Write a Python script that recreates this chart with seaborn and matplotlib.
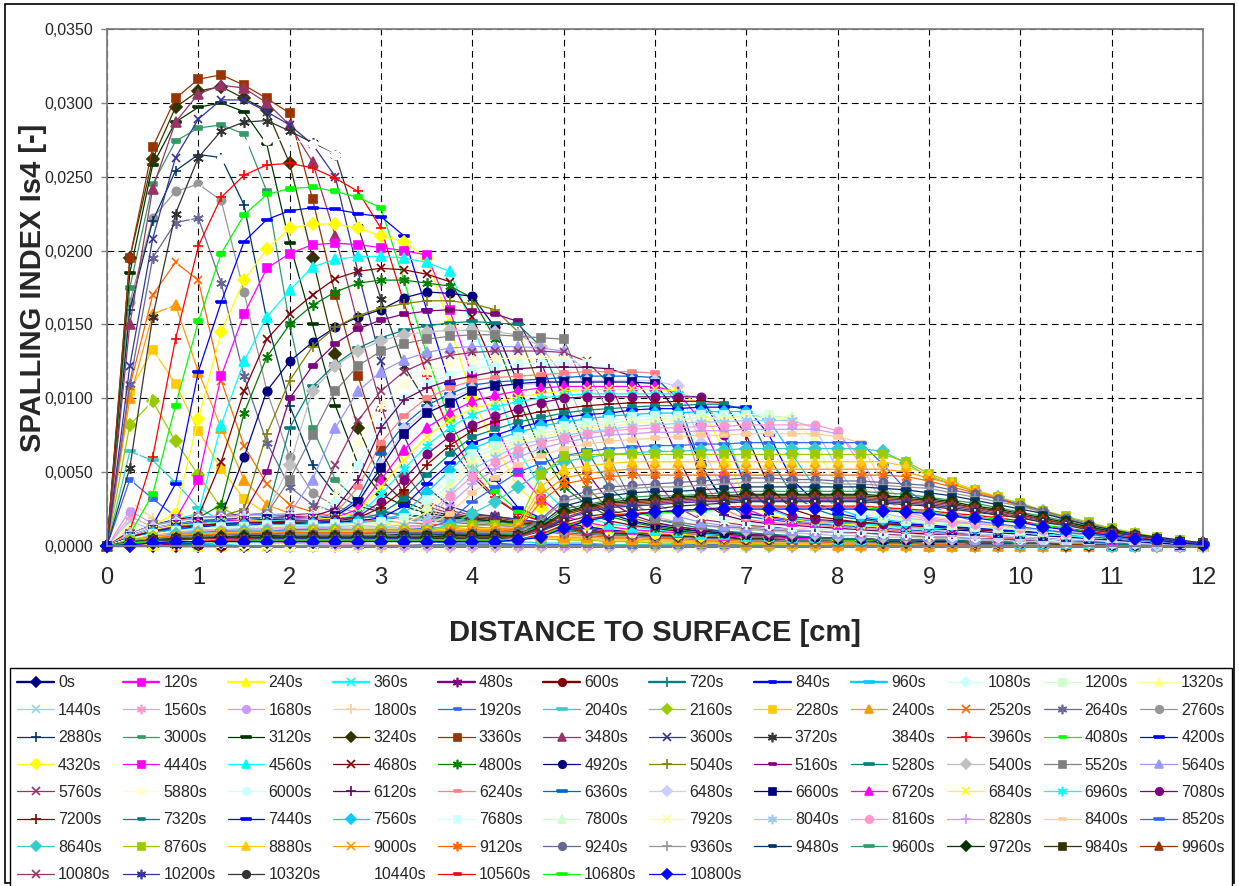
import numpy as np
import pandas as pd
import matplotlib
matplotlib.use("Agg")
import matplotlib.pyplot as plt
import seaborn as sns
from matplotlib.ticker import FuncFormatter, MultipleLocator
from matplotlib.patches import Rectangle

# ---------------- data ----------------
DIST_CM = [0, 0.25, 0.5, 0.75, 1.0, 1.25, 1.5, 1.75, 2.0, 2.25, 2.5, 2.75, 3.0, 3.25, 3.5, 3.75,
           4.0, 4.25, 4.5, 4.75, 5.0, 5.25, 5.5, 5.75, 6.0, 6.25, 6.5, 6.75, 7.0, 7.25, 7.5, 7.75,
           8.0, 8.25, 8.5, 8.75, 9.0, 9.25, 9.5, 9.75, 10.0, 10.25, 10.5, 10.75, 11.0, 11.25, 11.5, 11.75, 12.0]
TIME_S = list(range(0, 10801, 120))
SERIES_LABELS = [f"{t}s" for t in TIME_S]

# spalling index Is4 in units of 1e-4, one row per time step
IS4_E4 = [
 [0,0,0,0,0,0,0,0, 0,0,0,0,0,0,0,0, 0,0,0,0,0,0,0,0,0,0,0,0,0,0,0,0, 0,0,0,0,0,0,0,0,0,0,0,0,0,0,0,0,0],
 [0,2,1,0,0,0,0,0, 0,0,0,0,0,0,0,0, 0,0,0,0,0,0,0,0,0,0,0,0,0,0,0,0, 0,0,0,0,0,0,0,0,0,0,0,0,0,0,0,0,0],
 [0,3,1,1,0,0,0,0, 0,0,0,0,0,0,0,0, 0,0,0,0,0,0,0,0,0,0,0,0,0,0,0,0, 0,0,0,0,0,0,0,0,0,0,0,0,0,0,0,0,0],
 [0,4,2,1,0,0,0,0, 0,0,0,0,0,0,0,0, 0,0,0,0,0,0,0,0,0,0,0,0,0,0,0,0, 0,0,0,0,0,0,0,0,0,0,0,0,0,0,0,0,0],
 [0,5,2,1,1,0,0,0, 0,0,0,0,0,0,0,0, 0,0,0,0,0,0,0,0,0,0,0,0,0,0,0,0, 0,0,0,0,0,0,0,0,0,0,0,0,0,0,0,0,0],
 [0,6,3,2,1,0,0,0, 0,0,0,0,0,0,0,0, 0,0,0,0,0,0,0,0,0,0,0,0,0,0,0,0, 0,0,0,0,0,0,0,0,0,0,0,0,0,0,0,0,0],
 [0,7,4,2,1,1,0,0, 0,0,0,0,0,0,0,0, 0,0,0,0,0,0,0,0,0,0,0,0,0,0,0,0, 0,0,0,0,0,0,0,0,0,0,0,0,0,0,0,0,0],
 [0,8,5,3,2,1,0,0, 0,0,0,0,0,0,0,0, 0,0,0,0,0,0,0,0,0,0,0,0,0,0,0,0, 0,0,0,0,0,0,0,0,0,0,0,0,0,0,0,0,0],
 [0,10,6,4,2,1,1,0, 0,0,0,0,0,0,0,0, 0,0,0,0,0,0,0,0,0,0,0,0,0,0,0,0, 0,0,0,0,0,0,0,0,0,0,0,0,0,0,0,0,0],
 [0,11,7,4,3,2,1,1, 0,0,0,0,0,0,0,0, 0,0,0,0,0,0,0,0,0,0,0,0,0,0,0,0, 0,0,0,0,0,0,0,0,0,0,0,0,0,0,0,0,0],
 [0,13,8,5,3,2,2,1, 1,0,0,0,0,0,0,0, 0,0,0,0,0,0,0,0,0,0,0,0,0,0,0,0, 0,0,0,0,0,0,0,0,0,0,0,0,0,0,0,0,0],
 [0,15,9,6,4,3,2,2, 1,1,0,0,0,0,0,0, 0,0,0,0,0,0,0,0,0,0,0,0,0,0,0,0, 0,0,0,0,0,0,0,0,0,0,0,0,0,0,0,0,0],
 [0,17,11,7,5,4,3,2, 2,1,1,0,0,0,0,0, 0,0,0,0,0,0,0,0,0,0,0,0,0,0,0,0, 0,0,0,0,0,0,0,0,0,0,0,0,0,0,0,0,0],
 [0,20,13,9,6,5,4,3, 2,2,1,1,0,0,0,0, 0,0,0,0,0,0,0,0,0,0,0,0,0,0,0,0, 0,0,0,0,0,0,0,0,0,0,0,0,0,0,0,0,0],
 [0,24,15,10,7,6,5,4, 3,2,2,1,1,0,0,0, 0,0,0,0,0,0,0,0,0,0,0,0,0,0,0,0, 0,0,0,0,0,0,0,0,0,0,0,0,0,0,0,0,0],
 [0,30,19,12,9,7,6,5, 4,3,2,2,1,1,0,0, 0,0,0,0,0,0,0,0,0,0,0,0,0,0,0,0, 0,0,0,0,0,0,0,0,0,0,0,0,0,0,0,0,0],
 [0,45,32,20,14,11,9,8, 7,6,5,4,4,3,3,2, 2,2,1,1,1,1,0,0,0,0,0,0,0,0,0,0, 0,0,0,0,0,0,0,0,0,0,0,0,0,0,0,0,0],
 [0,64,58,43,26,17,13,11, 10,9,8,7,6,5,5,4, 4,3,3,2,2,2,1,1,1,1,0,0,0,0,0,0, 0,0,0,0,0,0,0,0,0,0,0,0,0,0,0,0,0],
 [0,82,98,71,48,26,18,15, 14,13,12,11,10,9,8,8, 7,6,6,5,4,4,3,3,2,2,2,2,1,1,1,1, 0,0,0,0,0,0,0,0,0,0,0,0,0,0,0,0,0],
 [0,105,133,110,78,52,32,22, 18,16,15,14,13,12,11,10, 9,8,7,6,5,5,4,4,3,3,2,2,2,2,1,1, 1,1,1,1,0,0,0,0,0,0,0,0,0,0,0,0,0],
 [0,100,157,163,118,80,45,28, 22,19,17,16,15,14,13,12, 11,10,9,7,6,6,5,5,4,4,3,3,2,2,2,2, 1,1,1,1,0,0,0,0,0,0,0,0,0,0,0,0,0],
 [0,108,170,192,180,112,68,42, 28,23,20,18,17,16,15,14, 13,12,11,10,8,7,6,6,5,5,4,4,3,3,3,3, 2,2,2,2,1,1,1,1,1,1,0,0,0,0,0,0,0],
 [0,110,195,219,222,178,115,70, 40,28,23,20,19,18,17,16, 15,14,13,11,9,8,7,7,6,6,5,5,4,4,3,3, 3,3,2,2,2,2,1,1,1,1,1,1,0,0,0,0,0],
 [0,165,222,240,245,234,172,105, 60,36,27,22,20,19,18,17, 16,15,14,12,10,9,8,8,7,7,6,6,5,5,4,4, 3,3,3,3,2,2,2,2,1,1,1,1,1,1,0,0,0],
 [0,160,220,254,265,263,231,153, 95,55,35,27,23,21,20,19, 18,17,15,13,11,9,8,8,7,7,6,6,5,5,4,4, 4,4,3,3,3,3,2,2,2,2,1,1,1,1,1,1,0],
 [0,175,245,274,283,285,279,240, 150,80,45,30,24,21,19,18, 17,16,15,13,11,9,8,8,7,7,6,6,5,5,4,4, 4,4,3,3,3,3,2,2,2,2,1,1,1,1,1,1,0],
 [0,185,258,287,297,300,294,272, 205,150,95,55,35,27,22,20, 18,17,16,14,12,10,9,8,7,7,6,6,5,5,5,5, 4,4,3,3,3,3,2,2,2,2,1,1,1,1,1,1,0],
 [0,195,262,297,308,311,303,295, 259,195,130,80,45,30,24,21, 19,18,16,14,12,10,9,9,8,7,6,6,5,5,5,5, 4,4,3,3,3,3,2,2,2,2,1,1,1,1,1,1,0],
 [0,195,270,303,316,319,312,303, 293,235,170,115,65,35,27,22, 20,19,17,15,12,10,9,9,8,8,7,7,6,6,5,5, 4,4,4,4,3,3,2,2,2,2,1,1,1,1,1,1,0],
 [0,150,242,287,306,312,310,300, 285,260,210,150,95,50,30,24, 21,20,18,16,13,11,10,9,8,8,7,7,6,6,5,5, 4,4,4,4,3,3,3,3,2,2,2,2,1,1,1,1,0],
 [0,122,208,263,289,302,302,294, 285,272,250,185,125,75,40,27, 22,20,18,16,13,11,10,9,8,8,7,7,6,6,5,5, 4,4,4,4,3,3,3,3,2,2,2,2,1,1,1,1,0],
 [0,53,155,225,263,281,287,288, 281,273,265,216,167,122,97,68, 47,32,22,17,14,12,10,9,8,8,7,7,6,6,5,5, 4,4,4,4,3,3,3,3,2,2,2,2,1,1,1,1,0],
 [0,30,110,185,240,262,272,275, 275,272,265,250,205,150,105,70, 50,35,24,18,15,12,10,9,8,8,7,7,6,6,5,5, 4,4,4,4,3,3,3,3,2,2,2,2,1,1,1,1,0],
 [0,10,60,140,203,236,251,258, 259,256,249,240,215,165,115,78, 50,33,22,17,14,12,10,9,8,8,7,7,6,6,5,5, 4,4,4,4,3,3,3,3,2,2,2,2,1,1,1,1,0],
 [0,8,35,95,152,198,224,238, 242,243,240,236,229,180,130,85, 55,37,24,18,15,13,11,10,9,8,7,7,6,6,5,5, 4,4,4,4,3,3,3,3,2,2,2,2,1,1,1,1,0],
 [0,6,14,42,118,165,206,221, 227,229,228,225,223,210,160,110, 70,45,26,19,16,13,11,10,9,8,7,7,6,6,5,5, 5,5,4,4,3,3,3,3,2,2,2,2,1,1,1,1,0],
 [0,8,14,22,86,145,180,201, 215,218,218,215,210,206,195,150, 100,68,40,26,18,15,12,10,9,8,7,7,6,6,5,5, 5,5,4,4,3,3,3,3,2,2,2,2,1,1,1,1,0],
 [0,8,14,18,45,115,157,188, 198,204,205,204,202,200,197,160, 115,82,50,32,20,16,13,11,10,9,8,7,6,6,5,5, 5,5,4,4,3,3,3,3,2,2,2,2,1,1,1,1,0],
 [0,8,14,18,22,82,125,155, 173,189,194,196,196,195,192,186, 150,110,65,40,25,19,15,13,11,10,8,8,7,7,6,6, 5,5,4,4,3,3,3,3,2,2,2,2,1,1,1,1,0],
 [0,8,14,18,20,57,105,140, 157,170,181,186,188,187,184,179, 155,120,80,50,30,22,17,14,12,10,9,8,7,7,6,6, 5,5,4,4,3,3,3,3,2,2,2,2,1,1,1,1,0],
 [0,8,14,17,19,28,90,128, 150,163,172,178,180,180,178,176, 168,140,100,65,40,28,20,16,13,11,10,9,8,7,6,6, 5,5,4,4,3,3,3,3,2,2,2,2,1,1,1,1,0],
 [0,8,14,17,19,20,60,105, 125,138,148,155,160,168,172,171, 169,148,110,72,45,30,22,17,14,12,10,9,8,7,6,6, 5,5,4,4,3,3,3,3,2,2,2,2,1,1,1,1,0],
 [0,8,14,17,19,20,25,76, 112,135,148,156,161,164,166,166, 164,160,145,105,65,40,25,19,15,13,11,10,8,7,6,6, 5,5,4,4,4,4,3,3,2,2,2,2,1,1,1,1,0],
 [0,8,14,17,19,20,22,50, 100,122,137,147,153,157,159,160, 159,157,152,125,85,50,30,21,16,13,11,10,8,7,6,6, 5,5,4,4,4,4,3,3,2,2,2,2,1,1,1,1,0],
 [0,8,14,17,19,20,21,22, 80,108,123,134,141,146,149,151, 152,151,150,135,100,65,40,26,18,15,12,10,9,8,7,6, 5,5,4,4,4,4,3,3,2,2,2,2,1,1,1,1,0],
 [0,8,14,17,19,20,21,22, 55,105,122,132,139,143,145,146, 146,145,143,135,115,80,50,30,20,16,14,12,11,10,9,8, 7,7,6,6,5,5,4,4,3,3,2,2,2,2,1,1,0],
 [0,8,14,17,19,20,21,22, 45,75,105,122,132,137,140,142, 143,143,142,141,140,105,60,30,18,16,14,13,12,11,10,10, 9,9,8,7,6,6,5,5,4,4,3,3,2,2,1,1,0],
 [0,8,14,17,19,20,21,21, 22,45,80,105,118,126,131,134, 135,135,135,134,132,118,90,55,30,20,16,14,13,12,11,10, 9,9,8,8,7,6,5,5,4,4,3,3,2,2,1,1,0],
 [0,8,13,16,18,19,20,20, 21,22,55,85,105,118,125,129, 131,132,132,132,131,125,110,78,45,26,18,16,14,13,12,11, 10,9,8,8,7,7,6,5,4,4,3,3,2,2,1,1,0],
 [0,8,13,16,18,19,20,20, 20,21,35,70,95,110,118,123, 126,127,127,127,127,125,118,92,60,35,20,17,15,14,12,11, 10,10,9,8,7,7,6,6,5,4,3,3,2,2,1,1,0],
 [0,7,13,16,18,19,19,20, 20,21,30,55,82,100,110,116, 120,122,123,124,124,123,120,105,80,45,24,19,16,14,13,12, 11,10,9,9,8,7,6,6,5,4,3,3,2,2,1,1,0],
 [0,7,12,15,17,18,19,19, 20,20,25,45,80,99,107,112, 115,118,120,121,121,121,120,115,95,60,30,21,17,15,14,13, 12,11,10,9,8,8,7,6,5,5,4,3,2,2,1,1,0],
 [0,7,12,15,17,18,18,19, 19,20,22,40,70,88,100,107, 112,114,115,116,117,118,118,118,117,95,45,25,18,16,15,14, 13,12,11,10,9,8,7,6,5,5,4,3,2,2,1,1,0],
 [0,7,12,15,17,18,18,19, 19,19,21,32,62,82,95,103, 109,111,112,113,114,115,115,115,114,100,55,30,20,18,16,15, 14,13,12,11,10,9,8,7,6,5,4,3,2,2,1,1,0],
 [0,7,12,15,16,17,18,18, 18,19,20,28,55,79,92,100, 106,108,109,110,111,112,112,112,112,108,70,35,22,19,17,16, 15,14,13,12,11,10,8,7,6,5,4,4,3,2,1,1,0],
 [0,6,11,14,16,17,17,18, 18,18,20,30,53,76,90,97, 105,108,110,111,111,111,111,111,110,90,55,30,22,20,18,17, 16,15,14,13,12,11,10,9,8,7,6,5,4,3,2,1,0],
 [0,6,11,14,16,17,17,17, 18,18,19,25,45,65,80,90, 98,102,105,107,108,108,108,108,108,104,85,50,25,19,17,16, 15,15,14,14,13,13,12,12,11,10,8,7,5,4,3,2,0],
 [0,6,11,14,15,16,17,17, 17,18,19,23,40,58,74,85, 93,97,101,103,105,106,106,106,106,105,95,65,30,21,18,16, 15,14,13,13,12,12,11,10,9,8,7,6,5,4,3,2,0],
 [0,6,10,13,15,16,16,17, 17,17,18,21,35,52,68,80, 89,94,98,100,102,103,103,103,103,103,100,80,40,25,19,17, 16,15,14,13,12,12,11,10,9,8,7,6,5,4,3,2,0],
 [0,6,10,13,14,15,16,16, 17,17,18,20,30,45,62,74, 82,88,93,97,100,101,101,101,101,101,101,75,40,26,20,18, 17,16,15,15,14,13,12,11,10,9,8,7,5,4,3,2,0],
 [0,6,10,12,14,15,15,16, 16,16,17,19,26,38,55,68, 78,84,88,91,93,95,96,97,97,98,98,97,75,40,25,20, 18,16,15,14,13,12,11,10,10,9,8,7,5,4,3,2,0],
 [0,5,9,12,13,14,15,15, 15,16,16,18,22,32,48,62, 74,79,84,87,90,92,93,94,95,95,96,96,92,60,35,25, 20,18,16,15,14,13,12,11,10,9,8,7,5,4,3,2,0],
 [0,5,9,11,13,14,14,15, 15,15,16,17,19,27,42,56, 70,75,80,84,87,89,90,92,93,93,94,94,94,75,45,30, 22,19,17,15,14,13,12,11,10,9,8,7,6,4,3,2,0],
 [0,5,9,11,12,13,14,14, 14,15,15,16,17,22,36,51, 66,72,77,81,84,86,88,89,90,90,91,91,91,85,62,40, 25,20,18,16,15,14,13,12,11,10,8,7,6,4,3,2,0],
 [0,5,8,10,12,13,13,14, 14,14,15,15,16,19,31,46, 62,68,74,78,81,83,85,87,88,88,89,89,89,89,84,60, 30,22,19,17,15,14,13,12,11,10,8,7,6,4,3,2,0],
 [0,5,8,10,11,12,13,13, 13,14,14,15,15,17,27,42, 59,66,72,76,79,81,83,85,86,86,87,87,88,88,87,70, 38,26,20,18,16,15,14,13,11,10,9,8,6,4,3,2,0],
 [0,5,8,10,11,12,12,13, 13,13,14,14,14,15,23,39, 56,63,70,74,77,79,81,83,84,85,86,86,87,87,86,72, 40,28,21,18,16,15,14,13,12,11,9,8,6,4,3,2,0],
 [0,4,7,9,11,11,12,12, 13,13,13,14,13,14,19,36, 52,60,68,72,75,77,79,81,82,83,84,84,85,85,85,80, 52,32,22,19,17,16,15,14,12,11,9,8,6,4,3,2,0],
 [0,4,7,9,10,11,11,12, 12,12,12,12,12,12,15,34, 47,57,65,70,73,76,78,79,80,80,81,81,82,82,82,82, 78,55,28,21,18,16,15,14,12,11,9,8,6,4,3,2,0],
 [0,4,7,9,10,10,11,11, 11,12,12,12,12,12,14,28, 42,52,60,66,70,73,75,76,77,77,78,78,79,79,79,79, 76,60,32,23,19,17,15,14,12,11,9,8,6,4,3,2,0],
 [0,4,7,8,9,10,10,11, 11,11,11,12,12,12,13,22, 36,46,55,61,66,69,71,72,73,74,75,75,76,76,76,76, 74,70,42,28,20,18,16,14,12,11,9,8,6,4,3,2,0],
 [0,4,6,8,9,10,10,10, 11,11,11,11,11,11,12,17, 30,40,50,56,61,64,66,67,68,68,69,69,70,70,70,70, 70,70,55,38,28,21,17,15,13,11,9,8,6,4,3,2,0],
 [0,4,6,8,9,9,10,10, 10,10,11,11,11,11,11,14, 22,30,40,50,57,60,62,63,64,64,65,65,66,66,66,66, 66,66,64,56,47,42,37,33,28,24,19,15,11,8,5,3,1],
 [0,4,6,7,8,9,9,9, 10,10,10,10,10,10,11,12, 14,14,15,48,61,62,62,62,62,62,62,62,62,62,62,62, 62,62,62,57,49,43,38,33,29,24,20,16,12,9,6,4,2],
 [0,3,6,7,8,9,9,9, 9,10,10,10,10,10,10,11, 12,12,13,40,52,54,56,57,57,57,57,57,57,57,57,57, 57,57,57,54,48,43,38,33,28,24,19,15,11,8,5,3,1],
 [0,3,5,7,8,8,9,9, 9,9,9,9,10,10,10,10, 11,11,12,35,46,49,51,52,52,52,52,52,52,52,52,52, 52,52,52,50,46,42,37,33,28,24,19,15,11,8,5,3,1],
 [0,3,5,7,7,8,8,8, 9,9,9,9,9,9,9,10, 10,10,11,30,42,45,47,48,48,48,48,48,48,48,48,48, 48,48,48,47,44,40,36,32,27,23,18,15,11,8,5,3,1],
 [0,3,5,6,7,7,8,8, 8,8,8,8,9,9,9,9, 9,9,10,18,32,37,40,41,42,43,44,45,46,46,45,45, 44,44,43,42,41,38,35,32,28,24,19,15,11,8,5,3,1],
 [0,3,5,6,6,7,7,7, 8,8,8,8,8,8,8,8, 9,9,9,17,30,34,37,39,40,40,41,42,43,43,43,43, 42,42,41,40,39,36,33,30,27,23,19,15,11,8,5,3,1],
 [0,3,4,5,6,6,7,7, 7,7,7,7,7,8,8,8, 8,8,8,15,27,31,34,36,37,37,38,39,40,40,40,40, 40,40,39,38,36,34,31,28,25,22,18,14,11,8,6,4,2],
 [0,2,4,5,6,6,6,6, 7,7,7,7,7,7,7,7, 7,7,8,14,25,28,31,33,34,34,35,36,37,37,37,37, 37,37,36,35,33,31,29,26,23,20,17,13,10,7,5,3,2],
 [0,2,4,5,5,6,6,6, 6,6,6,6,6,6,6,7, 7,7,7,13,23,27,30,31,32,33,34,34,35,35,35,35, 35,35,34,33,32,30,27,25,22,19,16,13,10,7,5,3,2],
 [0,2,4,5,5,5,5,6, 6,6,6,6,6,6,6,6, 6,6,7,12,22,26,29,30,31,32,33,33,34,34,34,34, 34,34,33,32,31,29,26,24,21,18,15,12,9,7,5,3,2],
 [0,2,4,4,5,5,5,5, 5,5,5,5,5,5,5,6, 6,6,6,12,21,25,28,29,30,31,32,32,33,33,33,33, 33,33,32,31,30,28,26,23,21,18,15,12,9,7,5,3,2],
 [0,2,3,4,4,5,5,5, 5,5,5,5,5,5,5,5, 5,5,6,11,19,24,27,28,29,30,31,31,32,32,32,32, 32,32,31,30,29,27,25,22,20,17,14,11,9,7,5,3,2],
 [0,2,3,4,4,4,4,5, 5,5,5,5,5,5,5,5, 5,5,5,10,18,23,26,27,28,29,30,30,31,31,31,31, 31,31,30,29,28,26,24,21,19,16,14,11,9,7,5,3,2],
 [0,2,3,4,4,4,4,4, 4,4,4,4,4,4,5,5, 5,5,5,9,16,20,22,24,25,27,28,29,30,30,30,30, 30,30,29,28,27,25,23,21,19,16,13,10,8,6,4,2,1],
 [0,2,3,3,4,4,4,4, 4,4,4,4,4,4,4,4, 4,4,5,9,15,19,21,23,24,25,26,27,28,28,28,28, 28,28,27,26,25,23,22,20,18,15,13,10,8,6,4,2,1],
 [0,2,3,3,3,4,4,4, 4,4,4,4,4,4,4,4, 4,4,4,8,14,18,21,22,23,24,25,26,27,27,27,27, 27,27,26,25,24,22,21,19,17,14,12,10,8,6,4,2,1],
 [0,2,3,3,3,3,3,4, 4,4,4,4,4,4,4,4, 4,4,4,7,13,17,20,21,22,23,24,25,26,26,26,26, 26,26,25,24,23,21,20,18,16,14,12,9,7,5,4,2,1],
 [0,1,2,3,3,3,3,3, 3,3,3,3,3,3,3,3, 3,3,4,6,12,17,20,21,23,24,25,25,25,25,25,25, 25,25,24,23,22,20,19,17,16,13,11,9,7,5,4,2,1],
]

bad = [(i, len(r)) for i, r in enumerate(IS4_E4) if len(r) != len(DIST_CM)]
if bad or len(IS4_E4) != len(TIME_S):
    raise ValueError(f"bad rows {bad}, n={len(IS4_E4)}")

# ---------------- style ----------------
sns.set_theme(style="white")
plt.rcParams["font.family"] = ["Liberation Sans", "DejaVu Sans"]

EXCEL_COLORS = [
    "#000080", "#FF00FF", "#FFFF00", "#00FFFF", "#800080", "#800000", "#008080", "#0000FF",
    "#00CCFF", "#CCFFFF", "#CCFFCC", "#FFFF99", "#99CCFF", "#FF99CC", "#CC99FF", "#FFCC99",
    "#3366FF", "#33CCCC", "#99CC00", "#FFCC00", "#FF9900", "#FF6600", "#666699", "#969696",
    "#003366", "#339966", "#003300", "#333300", "#993300", "#993366", "#333399", "#333333",
    "#FFFFFF", "#FF0000", "#00FF00", "#0000FF", "#FFFF00", "#FF00FF", "#00FFFF", "#800000",
    "#008000", "#000080", "#808000", "#800080", "#008080", "#C0C0C0", "#808080", "#9999FF",
    "#993366", "#FFFFCC", "#CCFFFF", "#660066", "#FF8080", "#0066CC", "#CCCCFF",
]
SHORT_DASH = [(-1, -0.4), (1, -0.4), (1, 0.4), (-1, 0.4), (-1, -0.4)]
LONG_DASH = [(-1, -0.27), (1, -0.27), (1, 0.27), (-1, 0.27), (-1, -0.27)]
MARKERS = ["D", "s", "^", "x", (6, 2, 0), "o", "+", SHORT_DASH, LONG_DASH]
MSIZES = [5.8, 5.6, 6.5, 6.0, 7.6, 6.0, 7.6, 5.6, 7.8]

W, H = 1239, 886
fig = plt.figure(figsize=(W / 100, H / 100), dpi=100)
ax = fig.add_axes([107 / W, 1 - 546 / H, 1096 / W, 517 / H])

handles = []
for i, (lab, row) in enumerate(zip(SERIES_LABELS, IS4_E4)):
    df = pd.DataFrame({"dist": DIST_CM, "is4": np.array(row, dtype=float) / 1e4})
    c = EXCEL_COLORS[i % len(EXCEL_COLORS)]
    sns.lineplot(data=df, x="dist", y="is4", ax=ax, color=c,
                 marker=MARKERS[i % 9], markersize=MSIZES[i % 9],
                 markerfacecolor=c, markeredgecolor=c, markeredgewidth=1.2,
                 linewidth=1.7 if i < 9 else 0.9, estimator=None, sort=False,
                 legend=False, clip_on=False)
    ln = ax.lines[-1]
    ln.set_label(lab)
    handles.append(ln)

ax.set_xlim(0, 12)
ax.set_ylim(0, 0.035)
ax.xaxis.set_major_locator(MultipleLocator(1))
ax.yaxis.set_major_locator(MultipleLocator(0.005))
ax.yaxis.set_major_formatter(FuncFormatter(lambda v, p: f"{v:.4f}".replace(".", ",")))
ax.grid(True, color="black", linestyle=(0, (6, 4)), linewidth=0.8)
ax.set_axisbelow(True)
for s in ax.spines.values():
    s.set_color("#808080")
    s.set_linewidth(1.3)
ax.tick_params(axis="x", labelsize=17, pad=11, length=4, width=1, color="#808080",
               direction="out", bottom=True)
ax.tick_params(axis="y", labelsize=11.5, pad=6, length=4, width=1, color="#808080",
               direction="out", left=True)
ax.set_xlabel("DISTANCE TO SURFACE [cm]", fontsize=21, fontweight="bold")
ax.xaxis.set_label_coords(0.5, -0.142)
ax.set_ylabel("SPALLING INDEX Is4 [-]", fontsize=21, fontweight="bold")
ax.yaxis.set_label_coords(-0.055, 0.5)

# legend laid out row by row, 12 columns
ncol, nrow = 12, 8
order = [r * ncol + c for c in range(ncol) for r in range(nrow) if r * ncol + c < len(handles)]
leg = fig.legend([handles[k] for k in order], [SERIES_LABELS[k] for k in order],
                 ncol=ncol, loc="upper left",
                 bbox_to_anchor=(10 / W, 1 - 882 / H, 1222 / W, 214 / H),
                 mode="expand", borderaxespad=0, fontsize=11.5, handlelength=2.3,
                 handletextpad=0.25, labelspacing=0.78, borderpad=0.45,
                 columnspacing=0.4, frameon=True, fancybox=False, framealpha=1)
leg.get_frame().set_edgecolor("black")
leg.get_frame().set_linewidth(1.0)
for h in leg.legend_handles:
    h.set_markersize(h.get_markersize() * 0.9)

fig.patches.append(Rectangle((0.004, 0.003), 0.992, 0.992, transform=fig.transFigure,
                             fill=False, edgecolor="black", linewidth=1.2))

fig.savefig("out.png", dpi=100)
